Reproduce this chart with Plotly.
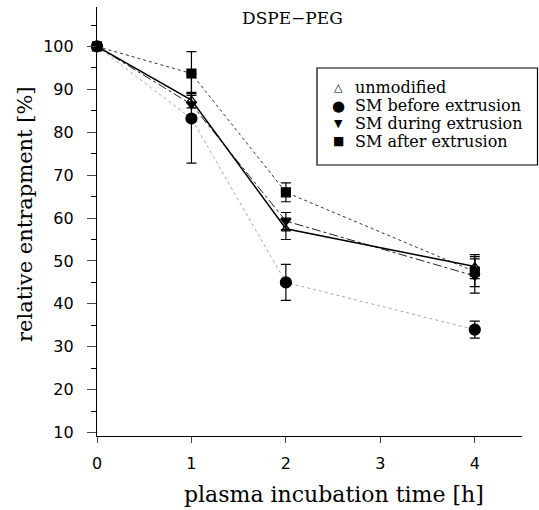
import plotly.graph_objects as go

hours = [0, 1, 2, 4]
unmodified = [100, 87.5, 57.5, 48.7]
unmodified_err = [0, 1.8, 2.5, 2.8]
sm_before = [100, 83.2, 45.0, 34.0]
sm_before_err = [0, 10.4, 4.2, 2.0]
sm_during = [100, 86.5, 59.3, 46.5]
sm_during_err = [0, 2.5, 2.0, 4.0]
sm_after = [100, 93.7, 66.0, 47.5]
sm_after_err = [0, 5.1, 2.2, 3.5]

names = ["unmodified", "SM before extrusion", "SM during extrusion", "SM after extrusion"]
legend_glyphs = ["\u25b3", "\u25cf", "\u25bc", "\u25a0"]
legend_glyph_sizes = [11, 15, 11, 12]
x_title = "plasma incubation time [h]"
y_title = "relative entrapment [%]"
chart_title = "DSPE\u2212PEG"

serif = "DejaVu Serif, Liberation Serif, serif"
sans = "DejaVu Sans, sans-serif"

L, R, T, B = 97, 17, 7, 74
W, H = 539, 510
PW, PH = W - L - R, H - T - B


def px(x):
    return (x - L) / PW


def py(y):
    return 1 - (y - T) / PH


fig = go.Figure()
series = [
    (sm_before, sm_before_err, "circle", 11, dict(color="#aaaaaa", width=1, dash="dot")),
    (sm_after, sm_after_err, "square", 9, dict(color="#333333", width=1, dash="dot")),
    (sm_during, sm_during_err, "triangle-down", 9, dict(color="#222222", width=1, dash="dashdot")),
    (unmodified, unmodified_err, "triangle-up-open", 8, dict(color="black", width=1.5)),
]
for (vals, err, sym, size, line), name in zip(series, [names[1], names[3], names[2], names[0]]):
    fig.add_trace(go.Scatter(
        x=hours, y=vals, mode="lines+markers", showlegend=False, name=name,
        line=line,
        marker=dict(symbol=sym, size=size, color="black", line=dict(color="black", width=1.2)),
        error_y=dict(type="data", array=err, color="black", thickness=1.2, width=5),
        cliponaxis=False,
    ))

annotations = [
    dict(text=chart_title, x=px(292), y=py(18), xref="paper", yref="paper",
         xanchor="center", yanchor="middle", showarrow=False, font=dict(family=serif, size=17)),
    dict(text=x_title, x=px(334), y=py(495), xref="paper", yref="paper",
         xanchor="center", yanchor="middle", showarrow=False, font=dict(family=serif, size=22)),
    dict(text=y_title, x=px(25), y=py(214), xref="paper", yref="paper", textangle=-90,
         xanchor="center", yanchor="middle", showarrow=False, font=dict(family=serif, size=21)),
]
rows = [88, 105.7, 123.4, 141]
for name, g, gs, ry in zip(names, legend_glyphs, legend_glyph_sizes, rows):
    annotations.append(dict(text=g, x=px(338), y=py(ry), xref="paper", yref="paper",
                            xanchor="center", yanchor="middle", showarrow=False,
                            font=dict(family=sans, size=gs, color="black")))
    annotations.append(dict(text=name, x=px(353), y=py(ry), xref="paper", yref="paper",
                            xanchor="left", yanchor="middle", showarrow=False,
                            font=dict(family=serif, size=16, color="black")))

fig.update_layout(
    width=W, height=H,
    margin=dict(l=L, r=R, t=T, b=B),
    plot_bgcolor="white", paper_bgcolor="white",
    font=dict(family=serif, color="black"),
    showlegend=False,
    annotations=annotations,
    shapes=[dict(type="rect", xref="paper", yref="paper",
                 x0=px(317), x1=px(537.5), y0=py(165), y1=py(68),
                 line=dict(color="black", width=1.2), fillcolor="white", layer="below")],
)
fig.update_xaxes(range=[0, 4.5], tickvals=[0, 1, 2, 3, 4], ticks="outside", ticklen=6,
                 showline=True, linecolor="black", linewidth=1.2, showgrid=False, zeroline=False,
                 tickfont=dict(family=sans, size=16), ticklabelstandoff=7)
fig.update_yaxes(range=[9.2, 109.2], tickvals=[10, 20, 30, 40, 50, 60, 70, 80, 90, 100],
                 ticks="outside", ticklen=9, showline=True, linecolor="black", linewidth=1.2,
                 showgrid=False, zeroline=False, ticklabelstandoff=10,
                 minor=dict(tickvals=[15, 25, 35, 45, 55, 65, 75, 85, 95, 105], ticks="outside",
                            ticklen=5, tickcolor="black"),
                 tickfont=dict(family=sans, size=16))
fig.write_html("out.html", config={"displayModeBar": False},
               post_script="document.body.style.margin='0px';")
